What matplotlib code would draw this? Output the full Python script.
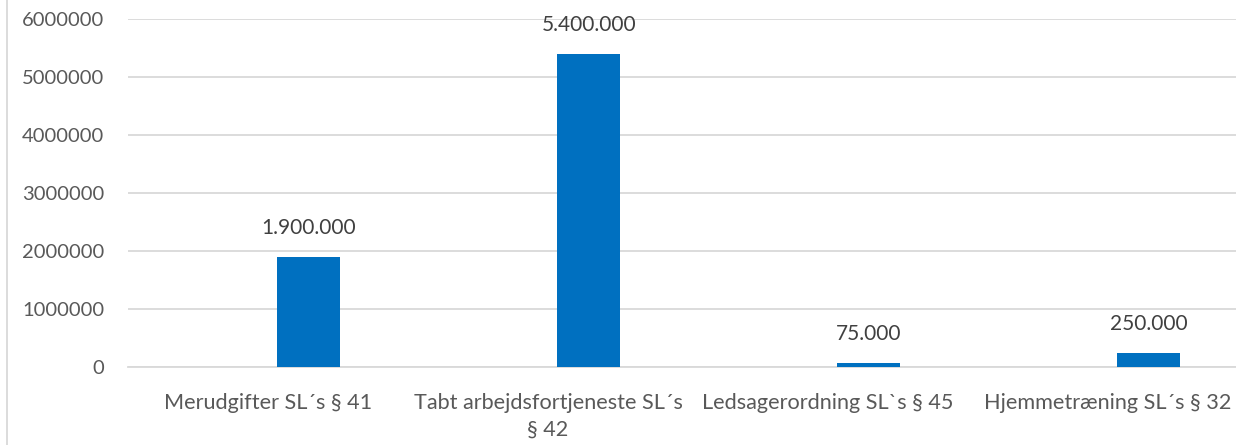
import matplotlib
matplotlib.use("Agg")
import matplotlib.pyplot as plt
from matplotlib.lines import Line2D
import numpy as np

categories = [
    "Merudgifter SL´s § 41",
    "Tabt arbejdsfortjeneste SL´s\n§ 42",
    "Ledsagerordning SL`s § 45",
    "Hjemmetræning SL´s § 32",
]
values = [1900000, 5400000, 75000, 250000]
yticks = [0, 1000000, 2000000, 3000000, 4000000, 5000000, 6000000]

plt.rcParams["font.family"] = ["Lato", "DejaVu Sans"]

fig = plt.figure(figsize=(12.36, 4.45), dpi=100)
ax = fig.add_axes([128 / 1236, 78 / 445, 1120 / 1236, 348 / 445])

x = np.arange(len(categories))
ax.bar(x + 0.146, values, width=0.225, color="#0070c0", zorder=3)

for xi, v in zip(x, values):
    label = f"{v:,.0f}".replace(",", ".")
    ax.annotate(label, (xi + 0.146, v), xytext=(0, 13.5), textcoords="offset points",
                ha="center", va="bottom", fontsize=15, color="#404040")

ax.set_xlim(-0.5, len(categories) - 0.5)
ax.set_ylim(0, 6000000)
ax.set_yticks(yticks)
ax.set_yticklabels([str(t) for t in yticks])
ax.set_xticks(x)
ax.set_xticklabels(categories, linespacing=1.4)
ax.yaxis.grid(True, color="#d9d9d9", linewidth=1.3, zorder=0)
ax.tick_params(axis="y", length=0, pad=17, labelsize=14.5, labelcolor="#595959")
ax.tick_params(axis="x", length=0, pad=19, labelsize=15.6, labelcolor="#595959")
for side in ["top", "right", "left"]:
    ax.spines[side].set_visible(False)
ax.spines["bottom"].set_color("#d9d9d9")
ax.spines["bottom"].set_linewidth(1.3)

# outer chart frame, left edge only visible
fig.add_artist(Line2D([7 / 1236, 7 / 1236], [0, 1], transform=fig.transFigure,
                      color="#d9d9d9", linewidth=1.3))

fig.savefig("out.png", dpi=100)
